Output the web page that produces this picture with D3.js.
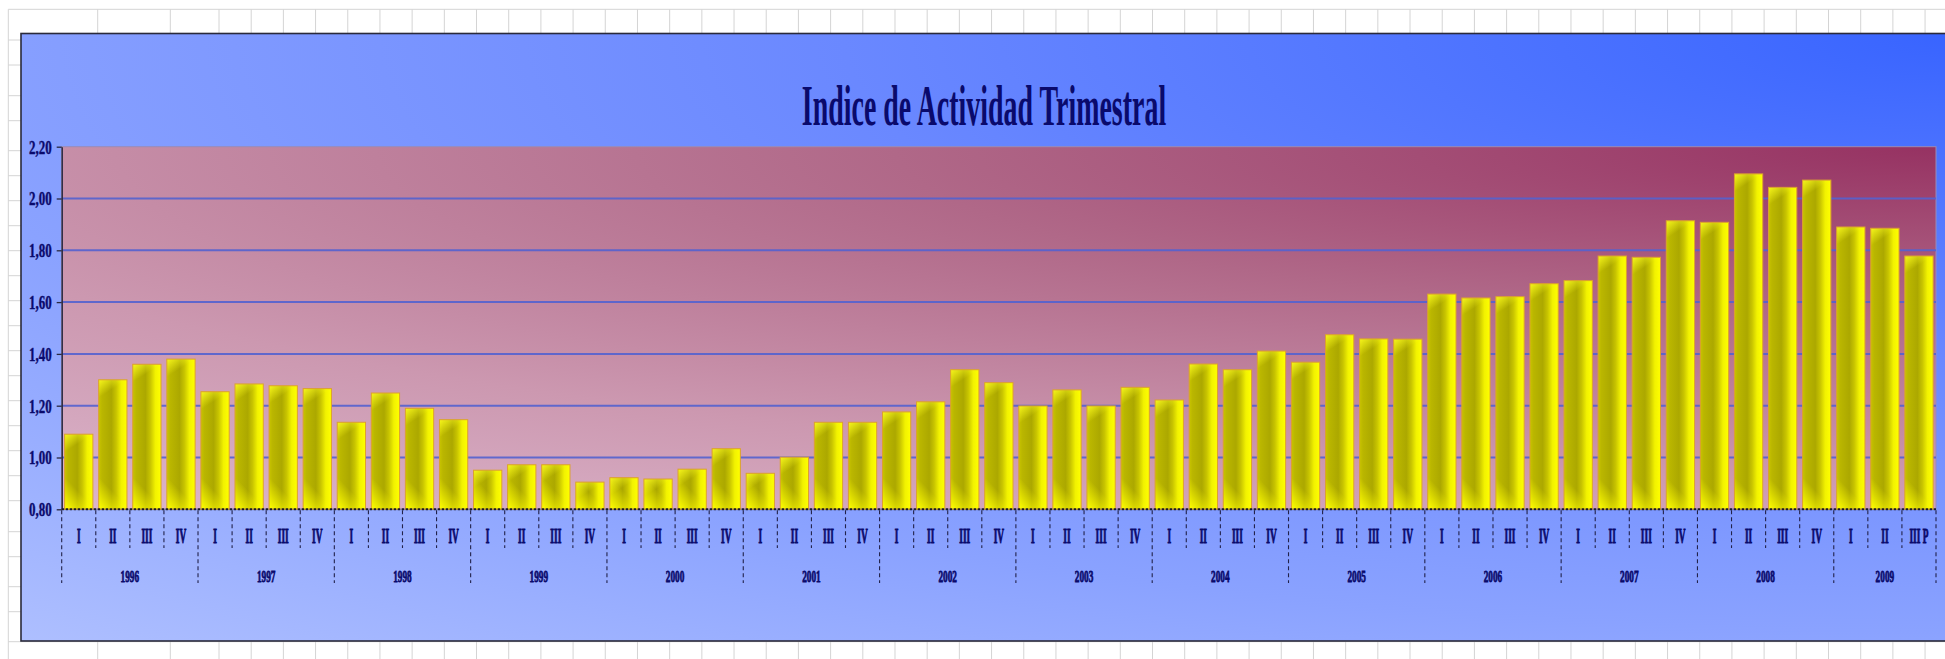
<!DOCTYPE html>
<html><head><meta charset="utf-8">
<script src="https://cdn.jsdelivr.net/npm/d3@7"></script>
<style>html,body{margin:0;padding:0;background:#fff;overflow:hidden}</style>
</head><body>
<svg id="c" width="1945" height="659" xmlns="http://www.w3.org/2000/svg"></svg>
<script>
// ---------------- DATA ----------------
const title = "Indice de Actividad Trimestral";
const years = ["1996","1997","1998","1999","2000","2001","2002","2003","2004","2005","2006","2007","2008","2009"];
const quartersPerYear = [4,4,4,4,4,4,4,4,4,4,4,4,4,3];
const quarters = [
  "I","II","III","IV", "I","II","III","IV", "I","II","III","IV", "I","II","III","IV",
  "I","II","III","IV", "I","II","III","IV", "I","II","III","IV", "I","II","III","IV",
  "I","II","III","IV", "I","II","III","IV", "I","II","III","IV", "I","II","III","IV",
  "I","II","III","IV", "I","II","III P"
];
const values = [
  1.09, 1.30, 1.36, 1.38,
  1.254, 1.284, 1.277, 1.266,
  1.136, 1.249, 1.19, 1.146,
  0.951, 0.972, 0.972, 0.905,
  0.922, 0.917, 0.955, 1.034,
  0.939, 1.001, 1.136, 1.136,
  1.176, 1.215, 1.339, 1.289,
  1.199, 1.261, 1.199, 1.271,
  1.222, 1.361, 1.339, 1.411,
  1.368, 1.474, 1.458, 1.457,
  1.631, 1.616, 1.621, 1.671,
  1.683, 1.778, 1.773, 1.914,
  1.908, 2.095, 2.043, 2.071,
  1.89, 1.885, 1.778
];
const yTicks = [0.8, 1.0, 1.2, 1.4, 1.6, 1.8, 2.0, 2.2];

// ---------------- LAYOUT ----------------
const W = 1945, H = 659;
const plotL = 61.7, plotR = 1936, plotT = 146.7, plotB = 509.3;
const navy = "#0a0a6c";
const serif = "'Liberation Serif','Times New Roman',serif";

const svg = d3.select("#c");
const defs = svg.append("defs");

function linGrad(id, x1, y1, x2, y2, stops) {
  const g = defs.append("linearGradient").attr("id", id)
    .attr("x1", x1).attr("y1", y1).attr("x2", x2).attr("y2", y2);
  stops.forEach(s => g.append("stop").attr("offset", s[0]).attr("stop-color", s[1]).attr("stop-opacity", s[2] == null ? 1 : s[2]));
}
function radGrad(id, transform, stops) {
  const g = defs.append("radialGradient").attr("id", id)
    .attr("cx", 0).attr("cy", 0).attr("r", 1).attr("fx", 0).attr("fy", 0)
    .attr("gradientTransform", transform);
  stops.forEach(s => g.append("stop").attr("offset", s[0]).attr("stop-color", s[1]));
}
radGrad("chartBg", "translate(1,0) scale(1.92,1.79)", [
  [0, "#3864ff"], [0.3, "#6a88ff"], [0.55, "#8aa2ff"], [0.8, "#b4c4ff"], [1, "#c0ceff"]
]);
radGrad("plotBg", "translate(1,0) scale(1.587,1.3)", [
  [0, "#963262"], [0.35, "#b06888"], [0.7, "#cc98b0"], [1, "#dcb6cc"]
]);
linGrad("barBase", 0, 0, 1, 0, [
  [0, "#c8c400"], [0.12, "#bab600"], [0.45, "#aca800"], [0.62, "#c8c400"], [0.8, "#f2f200"], [1, "#ffff00"]
]);
linGrad("barTop", 0, 0, 1, 1, [[0, "#ffff20", 0.85], [0.5, "#ffff20", 0]]);
linGrad("barBottom", 0, 1, 1, 0, [[0, "#ffff00", 1], [0.55, "#ffff00", 0]]);

// ---------------- SPREADSHEET GRID ----------------
const colX = [8.3, 97.7, 170.3].concat(d3.range(0, 54).map(k => 219 + 32.19 * k));
const rowY = [9.3, 40, 65, 95.7, 120.7, 150.7, 175.7].concat(d3.range(0, 13).map(k => 200.7 + 25 * k)).concat([531.7, 556.7, 586.7, 611.7, 641.7]);
const grid = svg.append("g").attr("stroke", "#d4d4d4").attr("stroke-width", 1);
colX.forEach(x => grid.append("line").attr("x1", x).attr("x2", x).attr("y1", 9.3).attr("y2", H));
rowY.forEach(y => grid.append("line").attr("x1", 8.3).attr("x2", W).attr("y1", y).attr("y2", y));

// ---------------- CHART AREA ----------------
svg.append("rect").attr("x", 21).attr("y", 33.5).attr("width", 1940).attr("height", 607.5)
  .attr("fill", "url(#chartBg)").attr("stroke", "#2a2a3a").attr("stroke-width", 1.6);

svg.append("rect").attr("x", plotL).attr("y", plotT).attr("width", plotR - plotL).attr("height", plotB - plotT)
  .attr("fill", "url(#plotBg)").attr("stroke", "#9a8cb8").attr("stroke-width", 1);

// Title
svg.append("text")
  .attr("transform", "translate(984,125) scale(0.49,1)")
  .attr("text-anchor", "middle")
  .attr("font-family", serif)
  .attr("font-weight", "bold").attr("font-size", 57).attr("fill", navy)
  .text(title);

// Scales
const x = d3.scaleBand().domain(d3.range(values.length)).range([plotL, plotR])
  .paddingInner(0.17).paddingOuter(0.085);
const y = d3.scaleLinear().domain([0.8, 2.2]).range([plotB, plotT]);

// Gridlines
svg.append("g").selectAll("line").data(yTicks.filter(t => t > 0.8 && t < 2.2)).join("line")
  .attr("x1", plotL).attr("x2", plotR).attr("y1", d => y(d)).attr("y2", d => y(d))
  .attr("stroke", "#5462d0").attr("stroke-width", 2).attr("opacity", 0.9);

// Bars
const bars = svg.append("g").selectAll("g").data(values).join("g");
bars.append("rect")
  .attr("x", (d, i) => x(i)).attr("y", d => y(d))
  .attr("width", x.bandwidth()).attr("height", d => y(0.8) - y(d))
  .attr("fill", "url(#barBase)");
bars.append("rect")
  .attr("x", (d, i) => x(i)).attr("y", d => y(d))
  .attr("width", x.bandwidth()).attr("height", d => Math.min(18, y(0.8) - y(d)))
  .attr("fill", "url(#barTop)");
bars.append("rect")
  .attr("x", (d, i) => x(i)).attr("y", d => y(0.8) - Math.min(30, y(0.8) - y(d)))
  .attr("width", x.bandwidth()).attr("height", d => Math.min(30, y(0.8) - y(d)))
  .attr("fill", "url(#barBottom)");
bars.append("rect")
  .attr("x", (d, i) => x(i)).attr("y", d => y(d))
  .attr("width", x.bandwidth()).attr("height", d => y(0.8) - y(d))
  .attr("fill", "none").attr("stroke", "#dca030").attr("stroke-width", 1);

// Y axis
const yAxis = svg.append("g").attr("transform", `translate(${plotL},0)`)
  .call(d3.axisLeft(y).tickValues(yTicks).tickSize(5).tickSizeOuter(0)
    .tickFormat(d => d.toFixed(2).replace(".", ",")));
yAxis.select(".domain").attr("stroke", "#2a2a40").attr("stroke-width", 1.5);
yAxis.selectAll(".tick line").attr("stroke", "#2a2a40").attr("stroke-width", 1.3);
yAxis.selectAll(".tick text")
  .attr("font-family", serif)
  .attr("font-weight", "bold").attr("font-size", 18).attr("fill", navy)
  .attr("stroke", navy).attr("stroke-width", 0.4)
  .attr("transform", "scale(0.72,1)").attr("x", -10 / 0.72).attr("dy", "0.36em");

// X axis (dotted baseline)
svg.append("line").attr("x1", plotL).attr("x2", plotR).attr("y1", y(0.8)).attr("y2", y(0.8))
  .attr("stroke", "#1a1a2a").attr("stroke-width", 2).attr("stroke-dasharray", "2.5,1.5");

// Category boundaries (dashed separators)
const half = (x.step() - x.bandwidth()) / 2;
const boundaries = d3.range(values.length + 1).map(i =>
  i < values.length ? x(i) - half : x(values.length - 1) + x.bandwidth() + half);
const yearStarts = d3.cumsum([0].concat(quartersPerYear));
const sep = svg.append("g").attr("stroke", "#22224a").attr("stroke-width", 1.1).attr("stroke-dasharray", "4,3");
boundaries.forEach((bx, i) => {
  const isYear = yearStarts.includes(i);
  sep.append("line").attr("x1", bx).attr("x2", bx).attr("y1", y(0.8) + 1).attr("y2", isYear ? 583 : 548);
});

// Quarter labels
svg.append("g").selectAll("text").data(quarters).join("text")
  .attr("transform", (d, i) => `translate(${x(i) + x.bandwidth() / 2},543) scale(0.47,1)`)
  .attr("text-anchor", "middle")
  .attr("font-family", serif)
  .attr("font-weight", "bold").attr("font-size", 20).attr("fill", navy)
  .attr("stroke", navy).attr("stroke-width", 0.9)
  .text(d => d);

// Year labels
svg.append("g").selectAll("text").data(years).join("text")
  .attr("transform", (d, i) => {
    const cx = (boundaries[yearStarts[i]] + boundaries[yearStarts[i + 1]]) / 2;
    return `translate(${cx},581.7) scale(0.53,1)`;
  })
  .attr("text-anchor", "middle")
  .attr("font-family", serif)
  .attr("font-weight", "bold").attr("font-size", 17.5).attr("fill", navy)
  .attr("stroke", navy).attr("stroke-width", 0.8)
  .text(d => d);
</script>
</body></html>
